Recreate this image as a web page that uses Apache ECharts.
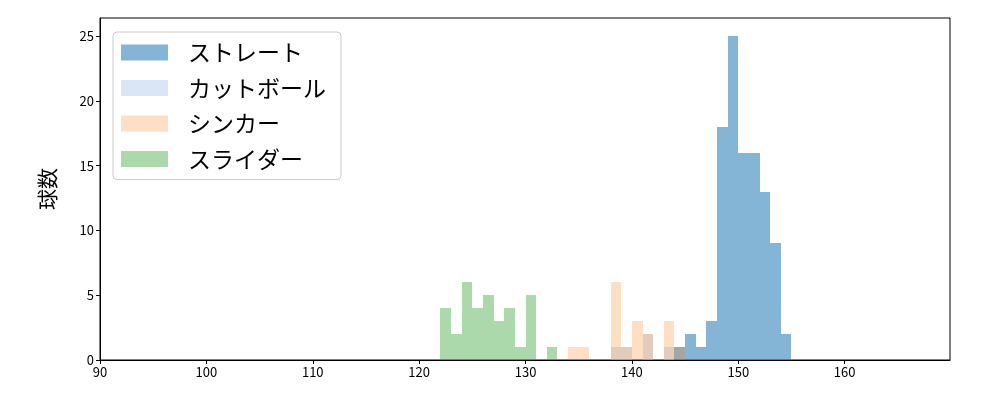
<!DOCTYPE html>
<html>
<head>
<meta charset="utf-8">
<script src="https://cdn.jsdelivr.net/npm/echarts@6/dist/echarts.min.js"></script>
<style>
html,body{margin:0;padding:0;background:#fff;}
#chart{width:1000px;height:400px;}
</style>
</head>
<body>
<div id="chart"></div>
<script>
// Histogram data (bin width 1 km/h)
const binWidth = 1;
const seriesNames = ['ストレート', 'カットボール', 'シンカー', 'スライダー'];
const straightStart = 144;
const straightCounts = [1, 2, 1, 3, 18, 25, 16, 16, 13, 9, 2];
const cutballStart = 138;
const cutballCounts = [1, 1, 0, 2, 0, 1];
const sinkerStart = 134;
const sinkerCounts = [1, 1, 0, 0, 6, 1, 3, 2, 0, 3, 1];
const sliderStart = 122;
const sliderCounts = [4, 2, 6, 4, 5, 3, 4, 1, 5, 0, 1];
const xTicks = [90, 100, 110, 120, 130, 140, 150, 160];
const yTicks = [0, 5, 10, 15, 20, 25];

const colors = ['rgba(31,119,180,0.55)', 'rgba(174,199,232,0.45)', 'rgba(255,127,14,0.25)', 'rgba(44,160,44,0.4)'];

function toBins(start, counts) {
  const out = [];
  counts.forEach((c, i) => {
    if (c > 0) out.push([start + i * binWidth, start + (i + 1) * binWidth, c]);
  });
  return out;
}

function renderItem(params, api) {
  const p0 = api.coord([api.value(0), api.value(2)]);
  const p1 = api.coord([api.value(1), 0]);
  const x0 = Math.round(p0[0]), x1 = Math.round(p1[0]);
  const y0 = Math.round(p0[1]), y1 = Math.round(p1[1]);
  return {
    type: 'rect',
    shape: { x: x0, y: y0, width: x1 - x0, height: y1 - y0 },
    style: api.style({ lineWidth: 0, stroke: null })
  };
}

const datasets = [
  toBins(straightStart, straightCounts),
  toBins(cutballStart, cutballCounts),
  toBins(sinkerStart, sinkerCounts),
  toBins(sliderStart, sliderCounts)
];

const font = '"Noto Sans CJK JP", "DejaVu Sans", sans-serif';
const chart = echarts.init(document.getElementById('chart'), null, { renderer: 'canvas' });
chart.setOption({
  animation: false,
  backgroundColor: '#fff',
  textStyle: { fontFamily: font },
  grid: { left: 100, right: 50, top: 18, bottom: 40, show: true, borderColor: '#000', borderWidth: 1, backgroundColor: 'transparent' },
  legend: {
    orient: 'vertical',
    left: 113,
    top: 32,
    icon: 'rect',
    itemWidth: 47,
    itemHeight: 16,
    itemGap: 12.5,
    padding: [9, 15, 9, 8],
    borderColor: '#cccccc',
    borderWidth: 1,
    borderRadius: 4,
    backgroundColor: 'rgba(255,255,255,0.8)',
    textStyle: { fontSize: 23, color: '#000', fontFamily: font, padding: [0, 0, 0, 15] },
    data: seriesNames
  },
  xAxis: {
    type: 'value',
    min: xTicks[0],
    max: 169.9,
    interval: 10,
    axisLine: { show: true, lineStyle: { color: '#000', width: 1 } },
    axisTick: { show: true, length: 4, lineStyle: { color: '#000' } },
    axisLabel: { color: '#000', fontSize: 13, margin: 6, showMaxLabel: false, fontFamily: font,
      formatter: v => (xTicks.indexOf(v) >= 0 ? String(v) : '') },
    splitLine: { show: false }
  },
  yAxis: {
    type: 'value',
    min: yTicks[0],
    max: 26.39,
    interval: 5,
    name: '球数',
    nameLocation: 'middle',
    nameGap: 42,
    nameTextStyle: { fontSize: 21, color: '#000', fontFamily: font },
    axisLine: { show: true, lineStyle: { color: '#000', width: 1 } },
    axisTick: { show: true, length: 4, lineStyle: { color: '#000' } },
    axisLabel: { color: '#000', fontSize: 13, margin: 6, showMaxLabel: false, fontFamily: font,
      formatter: v => (yTicks.indexOf(v) >= 0 ? String(v) : '') },
    splitLine: { show: false }
  },
  series: seriesNames.map((name, i) => ({
    name: name,
    type: 'custom',
    renderItem: renderItem,
    itemStyle: { color: colors[i] },
    encode: { x: [0, 1], y: 2 },
    data: datasets[i]
  }))
});
</script>
</body>
</html>
